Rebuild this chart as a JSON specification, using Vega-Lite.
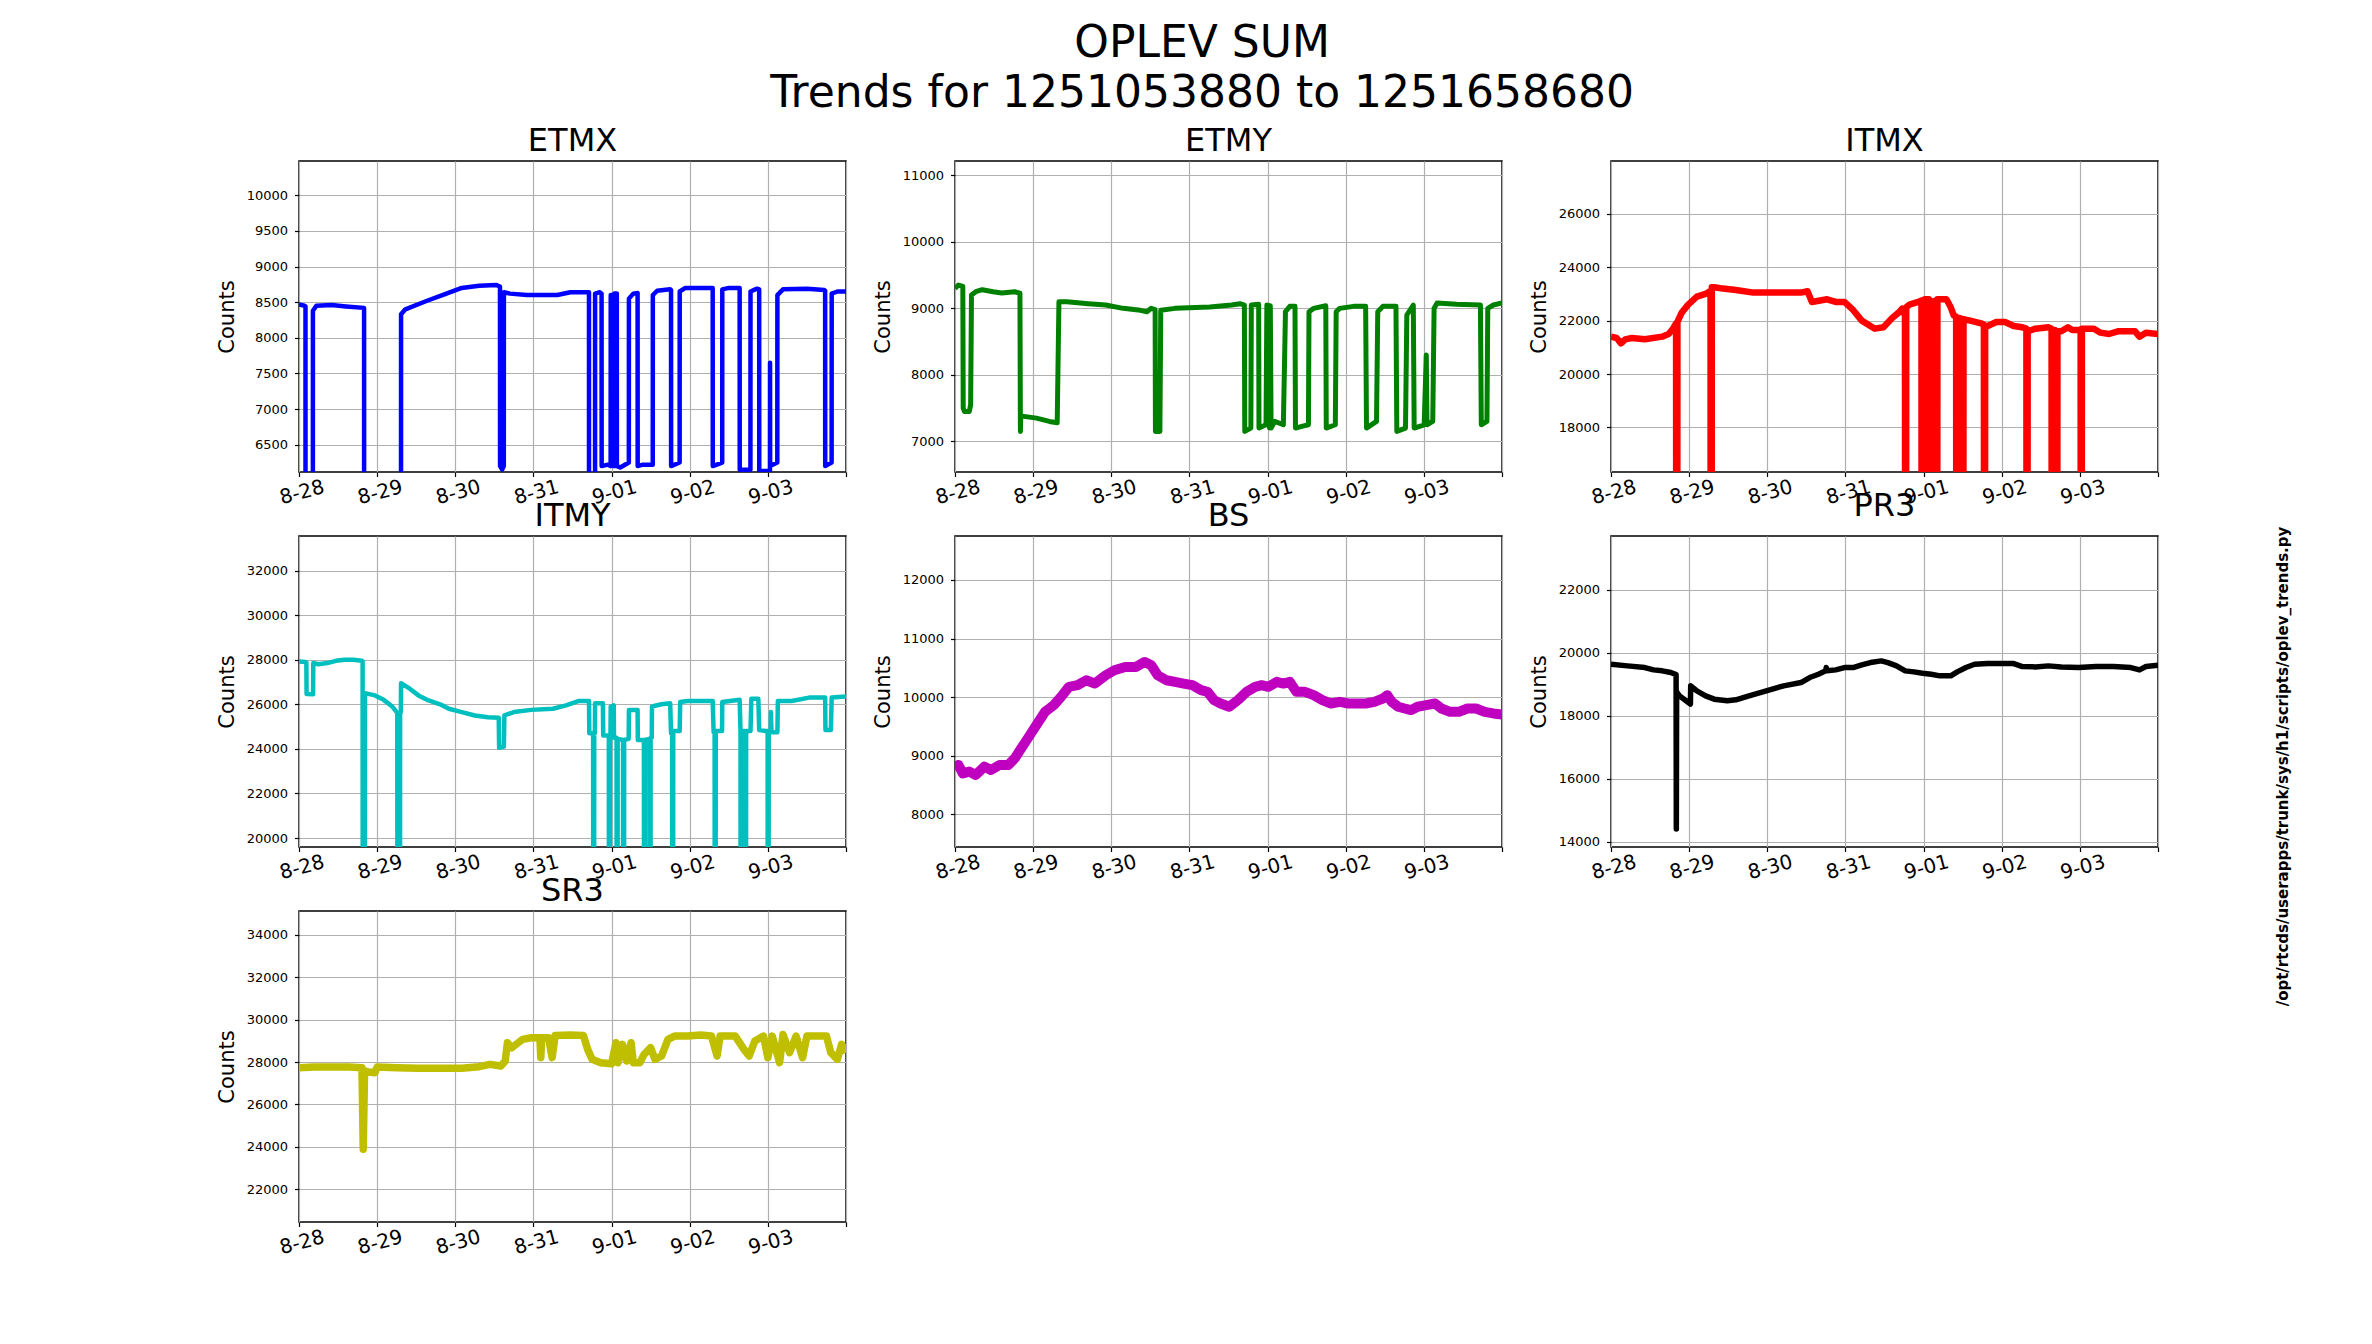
{
  "$schema": "https://vega.github.io/schema/vega-lite/v6.json",
  "background": "white",
  "padding": {"left": 215, "top": 22, "right": 10, "bottom": 10},
  "autosize": {"type": "pad"},
  "title": {
    "text": ["OPLEV SUM", "Trends for 1251053880 to 1251658680"],
    "fontSize": 44,
    "lineHeight": 50,
    "baseline": "bottom",
    "offset": -36,
    "frame": "bounds",
    "anchor": "middle",
    "dx": -51
  },
  "config": {
    "font": "DejaVu Sans",
    "view": {"stroke": "black", "strokeWidth": 1.5},
    "title": {"font": "DejaVu Sans", "fontSize": 32, "fontWeight": "normal", "color": "black", "frame": "group", "anchor": "middle", "baseline": "alphabetic", "offset": 3},
    "axis": {
      "grid": true, "gridColor": "#b0b0b0", "gridWidth": 1.2, "gridOpacity": 1,
      "domain": false, "tickColor": "black", "tickSize": 4.5, "tickWidth": 1.2,
      "labelColor": "black", "titleColor": "black", "labelFont": "DejaVu Sans", "titleFont": "DejaVu Sans",
      "titleFontWeight": "normal", "labelFlush": false, "labelOverlap": false
    },
    "axisX": {"labelFontSize": 20, "labelAngle": -15, "labelAlign": "center", "labelBaseline": "top", "labelPadding": 6, "title": null},
    "axisY": {"labelFontSize": 13, "titleFontSize": 21, "labelPadding": 7, "titlePadding": 9}
  },
  "datasets": {
    "ETMX": [
      {"t":0,"v":8470},{"t":0.07,"v":8450},{"t":0.083,"v":8440},{"t":0.084,"v":0},{"t":0.177,"v":0},{"t":0.178,"v":8380},{"t":0.222,"v":8450},{"t":0.417,"v":8460},{"t":0.6,"v":8440},{"t":0.833,"v":8420},{"t":0.834,"v":0},{"t":1.305,"v":0},{"t":1.306,"v":8330},{"t":1.361,"v":8400},{"t":1.639,"v":8520},{"t":1.861,"v":8610},{"t":2.083,"v":8700},{"t":2.306,"v":8730},{"t":2.528,"v":8740},{"t":2.572,"v":8720},{"t":2.573,"v":6200},{"t":2.6,"v":6150},{"t":2.621,"v":6200},{"t":2.622,"v":8640},{"t":2.7,"v":8620},{"t":2.917,"v":8600},{"t":3.306,"v":8600},{"t":3.472,"v":8640},{"t":3.711,"v":8640},{"t":3.712,"v":0},{"t":3.788,"v":0},{"t":3.789,"v":8620},{"t":3.85,"v":8640},{"t":3.872,"v":8620},{"t":3.873,"v":6200},{"t":3.95,"v":6220},{"t":3.988,"v":6200},{"t":3.989,"v":8600},{"t":4.017,"v":8600},{"t":4.018,"v":6200},{"t":4.027,"v":6200},{"t":4.028,"v":8600},{"t":4.035,"v":8620},{"t":4.036,"v":6200},{"t":4.043,"v":6200},{"t":4.044,"v":8620},{"t":4.067,"v":8620},{"t":4.068,"v":6200},{"t":4.111,"v":6180},{"t":4.221,"v":6250},{"t":4.222,"v":8550},{"t":4.278,"v":8620},{"t":4.333,"v":8630},{"t":4.334,"v":6200},{"t":4.4,"v":6220},{"t":4.527,"v":6220},{"t":4.528,"v":8600},{"t":4.583,"v":8660},{"t":4.75,"v":8680},{"t":4.761,"v":8670},{"t":4.762,"v":6200},{"t":4.871,"v":6250},{"t":4.872,"v":8650},{"t":4.944,"v":8700},{"t":5.294,"v":8700},{"t":5.295,"v":6200},{"t":5.416,"v":6250},{"t":5.417,"v":8680},{"t":5.5,"v":8700},{"t":5.639,"v":8700},{"t":5.64,"v":6150},{"t":5.777,"v":6150},{"t":5.778,"v":8650},{"t":5.861,"v":8690},{"t":5.889,"v":8680},{"t":5.89,"v":6130},{"t":6.027,"v":6130},{"t":6.028,"v":7650},{"t":6.029,"v":6200},{"t":6.121,"v":6250},{"t":6.122,"v":8600},{"t":6.194,"v":8680},{"t":6.5,"v":8690},{"t":6.722,"v":8670},{"t":6.733,"v":8660},{"t":6.734,"v":6200},{"t":6.816,"v":6250},{"t":6.817,"v":8620},{"t":6.889,"v":8650},{"t":7,"v":8650}
    ],
    "ETMY": [
      {"t":0,"v":9300},{"t":0.044,"v":9350},{"t":0.1,"v":9330},{"t":0.105,"v":7500},{"t":0.12,"v":7450},{"t":0.183,"v":7450},{"t":0.2,"v":7550},{"t":0.211,"v":9200},{"t":0.266,"v":9250},{"t":0.349,"v":9280},{"t":0.488,"v":9250},{"t":0.599,"v":9230},{"t":0.765,"v":9250},{"t":0.831,"v":9230},{"t":0.837,"v":7150},{"t":0.842,"v":7400},{"t":0.859,"v":7380},{"t":1.042,"v":7350},{"t":1.208,"v":7300},{"t":1.308,"v":7280},{"t":1.33,"v":9100},{"t":1.43,"v":9100},{"t":1.707,"v":9070},{"t":1.929,"v":9050},{"t":2.151,"v":9000},{"t":2.373,"v":8970},{"t":2.456,"v":8950},{"t":2.511,"v":9000},{"t":2.561,"v":8980},{"t":2.565,"v":7150},{"t":2.622,"v":7150},{"t":2.633,"v":8970},{"t":2.816,"v":9000},{"t":3.259,"v":9020},{"t":3.537,"v":9050},{"t":3.647,"v":9070},{"t":3.703,"v":9050},{"t":3.708,"v":7150},{"t":3.786,"v":7200},{"t":3.792,"v":9050},{"t":3.886,"v":9060},{"t":3.89,"v":7200},{"t":3.98,"v":7250},{"t":3.991,"v":9050},{"t":4.02,"v":9040},{"t":4.025,"v":7200},{"t":4.035,"v":9040},{"t":4.045,"v":7200},{"t":4.091,"v":7300},{"t":4.202,"v":7250},{"t":4.229,"v":8950},{"t":4.285,"v":9030},{"t":4.351,"v":9030},{"t":4.357,"v":7200},{"t":4.45,"v":7230},{"t":4.523,"v":7250},{"t":4.53,"v":8950},{"t":4.59,"v":9000},{"t":4.745,"v":9040},{"t":4.751,"v":7200},{"t":4.867,"v":7250},{"t":4.878,"v":8950},{"t":4.922,"v":9000},{"t":5.1,"v":9030},{"t":5.255,"v":9030},{"t":5.266,"v":7200},{"t":5.394,"v":7300},{"t":5.41,"v":8950},{"t":5.477,"v":9030},{"t":5.643,"v":9030},{"t":5.654,"v":7150},{"t":5.765,"v":7200},{"t":5.782,"v":8900},{"t":5.865,"v":9050},{"t":5.876,"v":7200},{"t":6.004,"v":7250},{"t":6.031,"v":8300},{"t":6.04,"v":7250},{"t":6.114,"v":7300},{"t":6.131,"v":9000},{"t":6.17,"v":9080},{"t":6.419,"v":9060},{"t":6.724,"v":9050},{"t":6.735,"v":7250},{"t":6.807,"v":7300},{"t":6.818,"v":9000},{"t":6.89,"v":9050},{"t":7,"v":9080}
    ],
    "ITMX": [
      {"t":0,"v":21400},{"t":0.072,"v":21350},{"t":0.128,"v":21150},{"t":0.183,"v":21300},{"t":0.267,"v":21350},{"t":0.433,"v":21300},{"t":0.655,"v":21400},{"t":0.738,"v":21500},{"t":0.794,"v":21700},{"t":0.833,"v":21900},{"t":0.836,"v":0},{"t":0.846,"v":0},{"t":0.85,"v":21950},{"t":0.905,"v":22300},{"t":0.988,"v":22600},{"t":1.099,"v":22900},{"t":1.21,"v":23000},{"t":1.266,"v":23100},{"t":1.274,"v":23100},{"t":1.277,"v":0},{"t":1.287,"v":0},{"t":1.29,"v":23250},{"t":1.321,"v":23250},{"t":1.433,"v":23200},{"t":1.599,"v":23150},{"t":1.821,"v":23050},{"t":2.099,"v":23050},{"t":2.432,"v":23050},{"t":2.515,"v":23100},{"t":2.571,"v":22700},{"t":2.765,"v":22800},{"t":2.876,"v":22700},{"t":2.987,"v":22700},{"t":3.098,"v":22400},{"t":3.209,"v":22000},{"t":3.376,"v":21700},{"t":3.487,"v":21750},{"t":3.598,"v":22100},{"t":3.681,"v":22300},{"t":3.726,"v":22450},{"t":3.753,"v":22250},{"t":3.762,"v":22300},{"t":3.765,"v":0},{"t":3.775,"v":0},{"t":3.778,"v":22500},{"t":3.82,"v":22600},{"t":3.931,"v":22700},{"t":3.973,"v":22750},{"t":3.976,"v":0},{"t":3.986,"v":0},{"t":3.989,"v":22750},{"t":4.014,"v":22800},{"t":4.067,"v":22800},{"t":4.07,"v":0},{"t":4.08,"v":0},{"t":4.083,"v":22700},{"t":4.098,"v":22700},{"t":4.161,"v":22750},{"t":4.164,"v":0},{"t":4.174,"v":0},{"t":4.177,"v":22800},{"t":4.209,"v":22800},{"t":4.292,"v":22800},{"t":4.348,"v":22500},{"t":4.386,"v":22200},{"t":4.417,"v":22150},{"t":4.42,"v":0},{"t":4.43,"v":0},{"t":4.433,"v":22100},{"t":4.459,"v":22100},{"t":4.495,"v":22050},{"t":4.498,"v":0},{"t":4.508,"v":0},{"t":4.511,"v":22050},{"t":4.597,"v":22000},{"t":4.736,"v":21900},{"t":4.772,"v":21850},{"t":4.775,"v":0},{"t":4.785,"v":0},{"t":4.788,"v":21800},{"t":4.82,"v":21800},{"t":4.931,"v":21950},{"t":5.042,"v":21950},{"t":5.153,"v":21800},{"t":5.264,"v":21750},{"t":5.316,"v":21700},{"t":5.319,"v":0},{"t":5.329,"v":0},{"t":5.332,"v":21600},{"t":5.43,"v":21700},{"t":5.597,"v":21750},{"t":5.638,"v":21700},{"t":5.641,"v":0},{"t":5.651,"v":0},{"t":5.654,"v":21650},{"t":5.677,"v":21650},{"t":5.68,"v":0},{"t":5.71,"v":0},{"t":5.713,"v":21600},{"t":5.763,"v":21600},{"t":5.847,"v":21750},{"t":5.902,"v":21650},{"t":6.01,"v":21650},{"t":6.013,"v":0},{"t":6.023,"v":0},{"t":6.026,"v":21700},{"t":6.097,"v":21700},{"t":6.18,"v":21700},{"t":6.263,"v":21550},{"t":6.374,"v":21500},{"t":6.485,"v":21600},{"t":6.707,"v":21600},{"t":6.763,"v":21400},{"t":6.846,"v":21550},{"t":7,"v":21500}
    ],
    "ITMY": [
      {"t":0,"v":27925},{"t":0.083,"v":27900},{"t":0.094,"v":27880},{"t":0.097,"v":26460},{"t":0.18,"v":26450},{"t":0.183,"v":27850},{"t":0.25,"v":27800},{"t":0.361,"v":27850},{"t":0.472,"v":27950},{"t":0.583,"v":28000},{"t":0.694,"v":28000},{"t":0.806,"v":27950},{"t":0.814,"v":27930},{"t":0.817,"v":0},{"t":0.84,"v":0},{"t":0.844,"v":26500},{"t":0.972,"v":26400},{"t":1.083,"v":26200},{"t":1.194,"v":25900},{"t":1.25,"v":25650},{"t":1.258,"v":25600},{"t":1.261,"v":0},{"t":1.29,"v":0},{"t":1.294,"v":25600},{"t":1.303,"v":25650},{"t":1.306,"v":26950},{"t":1.417,"v":26700},{"t":1.528,"v":26400},{"t":1.639,"v":26200},{"t":1.806,"v":26000},{"t":1.917,"v":25800},{"t":2.083,"v":25650},{"t":2.25,"v":25500},{"t":2.417,"v":25420},{"t":2.556,"v":25400},{"t":2.561,"v":24050},{"t":2.622,"v":24100},{"t":2.628,"v":25500},{"t":2.75,"v":25650},{"t":2.972,"v":25750},{"t":3.25,"v":25800},{"t":3.417,"v":25950},{"t":3.583,"v":26150},{"t":3.711,"v":26150},{"t":3.715,"v":24700},{"t":3.764,"v":24700},{"t":3.767,"v":0},{"t":3.775,"v":0},{"t":3.778,"v":24700},{"t":3.786,"v":24700},{"t":3.789,"v":26050},{"t":3.889,"v":26050},{"t":3.893,"v":24600},{"t":3.965,"v":24600},{"t":3.968,"v":0},{"t":3.976,"v":0},{"t":3.979,"v":24600},{"t":3.986,"v":24600},{"t":3.989,"v":25900},{"t":4.028,"v":25950},{"t":4.031,"v":24500},{"t":4.064,"v":24500},{"t":4.067,"v":0},{"t":4.075,"v":0},{"t":4.078,"v":24450},{"t":4.147,"v":24400},{"t":4.15,"v":0},{"t":4.158,"v":0},{"t":4.161,"v":24400},{"t":4.219,"v":24450},{"t":4.222,"v":25750},{"t":4.333,"v":25750},{"t":4.336,"v":24400},{"t":4.414,"v":24400},{"t":4.417,"v":0},{"t":4.425,"v":0},{"t":4.428,"v":24400},{"t":4.486,"v":24450},{"t":4.489,"v":0},{"t":4.497,"v":0},{"t":4.5,"v":24500},{"t":4.514,"v":24500},{"t":4.517,"v":25900},{"t":4.639,"v":26000},{"t":4.75,"v":26050},{"t":4.761,"v":24700},{"t":4.775,"v":24700},{"t":4.778,"v":0},{"t":4.786,"v":0},{"t":4.789,"v":24800},{"t":4.872,"v":24800},{"t":4.878,"v":26100},{"t":4.972,"v":26150},{"t":5.294,"v":26150},{"t":5.306,"v":24750},{"t":5.319,"v":24750},{"t":5.322,"v":0},{"t":5.33,"v":0},{"t":5.333,"v":24800},{"t":5.414,"v":24800},{"t":5.417,"v":26100},{"t":5.639,"v":26200},{"t":5.65,"v":24800},{"t":5.653,"v":0},{"t":5.661,"v":0},{"t":5.664,"v":24800},{"t":5.708,"v":24800},{"t":5.711,"v":0},{"t":5.719,"v":0},{"t":5.722,"v":24800},{"t":5.778,"v":24800},{"t":5.789,"v":26250},{"t":5.878,"v":26250},{"t":5.889,"v":24850},{"t":5.972,"v":24800},{"t":5.997,"v":24800},{"t":6.0,"v":0},{"t":6.008,"v":0},{"t":6.011,"v":24800},{"t":6.036,"v":24800},{"t":6.039,"v":25650},{"t":6.046,"v":24750},{"t":6.122,"v":24750},{"t":6.128,"v":26150},{"t":6.306,"v":26150},{"t":6.528,"v":26300},{"t":6.733,"v":26300},{"t":6.737,"v":24850},{"t":6.806,"v":24850},{"t":6.817,"v":26300},{"t":7,"v":26350}
    ],
    "BS": [
      {"t":0,"v":8758},{"t":0.044,"v":8843},{"t":0.1,"v":8700},{"t":0.183,"v":8730},{"t":0.266,"v":8673},{"t":0.377,"v":8815},{"t":0.46,"v":8758},{"t":0.571,"v":8843},{"t":0.682,"v":8843},{"t":0.765,"v":8956},{"t":0.848,"v":9127},{"t":0.931,"v":9297},{"t":1.042,"v":9524},{"t":1.153,"v":9750},{"t":1.264,"v":9864},{"t":1.375,"v":10034},{"t":1.458,"v":10176},{"t":1.569,"v":10204},{"t":1.68,"v":10289},{"t":1.79,"v":10232},{"t":1.929,"v":10374},{"t":2.04,"v":10459},{"t":2.178,"v":10516},{"t":2.317,"v":10516},{"t":2.428,"v":10601},{"t":2.511,"v":10544},{"t":2.594,"v":10374},{"t":2.705,"v":10289},{"t":2.816,"v":10261},{"t":2.927,"v":10232},{"t":3.038,"v":10204},{"t":3.149,"v":10119},{"t":3.232,"v":10091},{"t":3.315,"v":9949},{"t":3.398,"v":9892},{"t":3.509,"v":9836},{"t":3.62,"v":9949},{"t":3.731,"v":10091},{"t":3.841,"v":10176},{"t":3.925,"v":10204},{"t":4.008,"v":10176},{"t":4.119,"v":10261},{"t":4.202,"v":10232},{"t":4.285,"v":10261},{"t":4.368,"v":10091},{"t":4.479,"v":10091},{"t":4.59,"v":10034},{"t":4.701,"v":9949},{"t":4.812,"v":9892},{"t":4.922,"v":9920},{"t":5.033,"v":9892},{"t":5.144,"v":9892},{"t":5.255,"v":9892},{"t":5.366,"v":9920},{"t":5.477,"v":9977},{"t":5.532,"v":10034},{"t":5.588,"v":9920},{"t":5.671,"v":9836},{"t":5.754,"v":9807},{"t":5.837,"v":9779},{"t":5.92,"v":9836},{"t":6.031,"v":9864},{"t":6.142,"v":9892},{"t":6.225,"v":9807},{"t":6.336,"v":9750},{"t":6.447,"v":9750},{"t":6.558,"v":9807},{"t":6.668,"v":9807},{"t":6.779,"v":9750},{"t":6.89,"v":9722},{"t":7,"v":9705}
    ],
    "PR3": [
      {"t":0,"v":19630},{"t":0.211,"v":19578},{"t":0.433,"v":19525},{"t":0.544,"v":19451},{"t":0.655,"v":19420},{"t":0.766,"v":19367},{"t":0.833,"v":19300},{"t":0.836,"v":14400},{"t":0.84,"v":18750},{"t":0.877,"v":18628},{"t":0.961,"v":18470},{"t":1.016,"v":18364},{"t":1.02,"v":18945},{"t":1.099,"v":18786},{"t":1.21,"v":18628},{"t":1.321,"v":18522},{"t":1.488,"v":18470},{"t":1.599,"v":18501},{"t":1.766,"v":18628},{"t":1.988,"v":18786},{"t":2.21,"v":18945},{"t":2.432,"v":19050},{"t":2.543,"v":19208},{"t":2.654,"v":19314},{"t":2.748,"v":19420},{"t":2.754,"v":19525},{"t":2.765,"v":19420},{"t":2.876,"v":19451},{"t":2.987,"v":19525},{"t":3.098,"v":19525},{"t":3.209,"v":19610},{"t":3.32,"v":19683},{"t":3.459,"v":19736},{"t":3.543,"v":19683},{"t":3.654,"v":19578},{"t":3.765,"v":19420},{"t":3.876,"v":19388},{"t":3.987,"v":19346},{"t":4.098,"v":19314},{"t":4.209,"v":19261},{"t":4.348,"v":19261},{"t":4.431,"v":19388},{"t":4.542,"v":19525},{"t":4.653,"v":19630},{"t":4.82,"v":19652},{"t":4.986,"v":19652},{"t":5.153,"v":19652},{"t":5.264,"v":19557},{"t":5.43,"v":19546},{"t":5.597,"v":19578},{"t":5.763,"v":19546},{"t":5.985,"v":19525},{"t":6.208,"v":19557},{"t":6.43,"v":19557},{"t":6.652,"v":19525},{"t":6.763,"v":19451},{"t":6.846,"v":19557},{"t":7,"v":19599}
    ],
    "SR3": [
      {"t":0,"v":27734},{"t":0.194,"v":27765},{"t":0.417,"v":27765},{"t":0.639,"v":27765},{"t":0.806,"v":27734},{"t":0.822,"v":23897},{"t":0.839,"v":27577},{"t":0.889,"v":27530},{"t":0.972,"v":27499},{"t":1.0,"v":27765},{"t":1.25,"v":27734},{"t":1.528,"v":27702},{"t":1.806,"v":27702},{"t":2.083,"v":27702},{"t":2.306,"v":27781},{"t":2.444,"v":27890},{"t":2.583,"v":27812},{"t":2.639,"v":28047},{"t":2.667,"v":28908},{"t":2.722,"v":28673},{"t":2.778,"v":28830},{"t":2.861,"v":29065},{"t":2.972,"v":29143},{"t":3.083,"v":29143},{"t":3.094,"v":28204},{"t":3.105,"v":29143},{"t":3.194,"v":29143},{"t":3.239,"v":28204},{"t":3.278,"v":29253},{"t":3.472,"v":29268},{"t":3.639,"v":29253},{"t":3.694,"v":28595},{"t":3.75,"v":28125},{"t":3.861,"v":27969},{"t":4.0,"v":27922},{"t":4.056,"v":28908},{"t":4.083,"v":27969},{"t":4.139,"v":28830},{"t":4.194,"v":28047},{"t":4.25,"v":28908},{"t":4.278,"v":27969},{"t":4.361,"v":27969},{"t":4.417,"v":28360},{"t":4.5,"v":28673},{"t":4.556,"v":28125},{"t":4.639,"v":28282},{"t":4.722,"v":29065},{"t":4.806,"v":29221},{"t":4.972,"v":29221},{"t":5.139,"v":29268},{"t":5.278,"v":29221},{"t":5.35,"v":28282},{"t":5.389,"v":29221},{"t":5.583,"v":29221},{"t":5.694,"v":28595},{"t":5.761,"v":28282},{"t":5.833,"v":28986},{"t":5.944,"v":29221},{"t":6.0,"v":28204},{"t":6.056,"v":29221},{"t":6.15,"v":27969},{"t":6.194,"v":29299},{"t":6.278,"v":28438},{"t":6.361,"v":29221},{"t":6.444,"v":28204},{"t":6.5,"v":29221},{"t":6.75,"v":29221},{"t":6.806,"v":28438},{"t":6.889,"v":28125},{"t":6.944,"v":28830},{"t":7,"v":28438}
    ]
  },
  "columns": 3,
  "bounds": "flush",
  "spacing": {"row": 64, "column": 109},
  "concat": [
    {
      "title": "ETMX", "width": 547, "height": 311,
      "data": {"name": "ETMX"},
      "mark": {"type": "line", "color": "#0000ff", "strokeWidth": 4.5, "strokeJoin": "round", "clip": true},
      "encoding": {
        "x": {"field": "t", "type": "quantitative", "scale": {"domain": [0, 7], "nice": false, "zero": false}, "axis": {"values": [0, 1, 2, 3, 4, 5, 6, 7], "labelExpr": "datum.value < 7 ? ['8-28','8-29','8-30','8-31','9-01','9-02','9-03'][datum.value] : ''"}},
        "y": {"field": "v", "type": "quantitative", "scale": {"domain": [6117, 10481], "nice": false, "zero": false}, "axis": {"values": [6500, 7000, 7500, 8000, 8500, 9000, 9500, 10000], "format": "d", "title": "Counts"}}
      }
    },
    {
      "title": "ETMY", "width": 547, "height": 311,
      "data": {"name": "ETMY"},
      "mark": {"type": "line", "color": "#008000", "strokeWidth": 5, "strokeJoin": "round", "clip": true},
      "encoding": {
        "x": {"field": "t", "type": "quantitative", "scale": {"domain": [0, 7], "nice": false, "zero": false}, "axis": {"values": [0, 1, 2, 3, 4, 5, 6, 7], "labelExpr": "datum.value < 7 ? ['8-28','8-29','8-30','8-31','9-01','9-02','9-03'][datum.value] : ''"}},
        "y": {"field": "v", "type": "quantitative", "scale": {"domain": [6540, 11215], "nice": false, "zero": false}, "axis": {"values": [7000, 8000, 9000, 10000, 11000], "format": "d", "title": "Counts"}}
      }
    },
    {
      "title": "ITMX", "width": 547, "height": 311,
      "data": {"name": "ITMX"},
      "mark": {"type": "line", "color": "#ff0000", "strokeWidth": 6.5, "strokeJoin": "round", "clip": true},
      "encoding": {
        "x": {"field": "t", "type": "quantitative", "scale": {"domain": [0, 7], "nice": false, "zero": false}, "axis": {"values": [0, 1, 2, 3, 4, 5, 6, 7], "labelExpr": "datum.value < 7 ? ['8-28','8-29','8-30','8-31','9-01','9-02','9-03'][datum.value] : ''"}},
        "y": {"field": "v", "type": "quantitative", "scale": {"domain": [16330, 27980], "nice": false, "zero": false}, "axis": {"values": [18000, 20000, 22000, 24000, 26000], "format": "d", "title": "Counts"}}
      }
    },
    {
      "title": "ITMY", "width": 547, "height": 311,
      "data": {"name": "ITMY"},
      "mark": {"type": "line", "color": "#00bfbf", "strokeWidth": 4.5, "strokeJoin": "round", "clip": true},
      "encoding": {
        "x": {"field": "t", "type": "quantitative", "scale": {"domain": [0, 7], "nice": false, "zero": false}, "axis": {"values": [0, 1, 2, 3, 4, 5, 6, 7], "labelExpr": "datum.value < 7 ? ['8-28','8-29','8-30','8-31','9-01','9-02','9-03'][datum.value] : ''"}},
        "y": {"field": "v", "type": "quantitative", "scale": {"domain": [19597, 33552], "nice": false, "zero": false}, "axis": {"values": [20000, 22000, 24000, 26000, 28000, 30000, 32000], "format": "d", "title": "Counts"}}
      }
    },
    {
      "title": "BS", "width": 547, "height": 311,
      "data": {"name": "BS"},
      "mark": {"type": "line", "color": "#bf00bf", "strokeWidth": 10, "strokeJoin": "round", "clip": true},
      "encoding": {
        "x": {"field": "t", "type": "quantitative", "scale": {"domain": [0, 7], "nice": false, "zero": false}, "axis": {"values": [0, 1, 2, 3, 4, 5, 6, 7], "labelExpr": "datum.value < 7 ? ['8-28','8-29','8-30','8-31','9-01','9-02','9-03'][datum.value] : ''"}},
        "y": {"field": "v", "type": "quantitative", "scale": {"domain": [7444, 12749], "nice": false, "zero": false}, "axis": {"values": [8000, 9000, 10000, 11000, 12000], "format": "d", "title": "Counts"}}
      }
    },
    {
      "title": "PR3", "width": 547, "height": 311,
      "data": {"name": "PR3"},
      "layer": [
        {
          "mark": {"type": "line", "color": "#000000", "strokeWidth": 5.5, "strokeJoin": "round", "clip": true},
          "encoding": {
            "x": {"field": "t", "type": "quantitative", "scale": {"domain": [0, 7], "nice": false, "zero": false}, "axis": {"values": [0, 1, 2, 3, 4, 5, 6, 7], "labelExpr": "datum.value < 7 ? ['8-28','8-29','8-30','8-31','9-01','9-02','9-03'][datum.value] : ''"}},
            "y": {"field": "v", "type": "quantitative", "scale": {"domain": [13831, 23699], "nice": false, "zero": false}, "axis": {"values": [14000, 16000, 18000, 20000, 22000], "format": "d", "title": "Counts"}}
          }
        },
        {
          "mark": {"type": "line", "opacity": 0, "clip": true},
          "encoding": {
            "x": {"field": "t", "type": "quantitative"},
            "y": {"field": "v", "type": "quantitative", "scale": {"domain": [13831, 23699], "nice": false, "zero": false}, "axis": {"orient": "right", "title": "/opt/rtcds/userapps/trunk/sys/h1/scripts/oplev_trends.py", "labels": false, "ticks": false, "grid": false, "domain": false, "titleAngle": 270, "titleFontSize": 15, "titleFontWeight": "bold", "titlePadding": 132, "titleY": 230}}
          }
        }
      ],
      "resolve": {"scale": {"y": "independent"}}
    },
    {
      "title": "SR3", "width": 547, "height": 311,
      "data": {"name": "SR3"},
      "mark": {"type": "line", "color": "#bfbf00", "strokeWidth": 7.5, "strokeJoin": "round", "clip": true},
      "encoding": {
        "x": {"field": "t", "type": "quantitative", "scale": {"domain": [0, 7], "nice": false, "zero": false}, "axis": {"values": [0, 1, 2, 3, 4, 5, 6, 7], "labelExpr": "datum.value < 7 ? ['8-28','8-29','8-30','8-31','9-01','9-02','9-03'][datum.value] : ''"}},
        "y": {"field": "v", "type": "quantitative", "scale": {"domain": [20465, 35112], "nice": false, "zero": false}, "axis": {"values": [22000, 24000, 26000, 28000, 30000, 32000, 34000], "format": "d", "title": "Counts"}}
      }
    }
  ]
}
